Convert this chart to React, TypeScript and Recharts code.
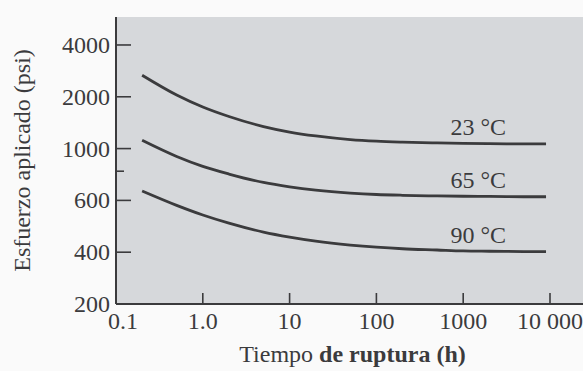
import React from 'react';
import { LineChart, Line, XAxis, YAxis, CartesianGrid, Label, LabelList } from 'recharts';

// rupture time (h)
const hours = [0.2, 0.5, 1, 2, 5, 10, 20, 50, 100, 200, 500, 1000, 2000, 5000, 9000];
// applied stress (psi)
const stress23 = [2670, 2049, 1745, 1537, 1343, 1248, 1184, 1128, 1104, 1090, 1078, 1072, 1068, 1064, 1064];
const stress65 = [1117, 925, 839, 778, 716, 686, 664, 645, 636, 631, 627, 625, 624, 622, 622];
const stress90 = [658, 577, 535, 502, 468, 450, 436, 423, 416, 411, 407, 404, 403, 402, 402];
const seriesNames = ['23 °C', '65 °C', '90 °C'];

const xTicks = [0.1, 1, 10, 100, 1000, 10000];
const xTickLabels = ['0.1', '1.0', '10', '100', '1000', '10 000'];
const yTicks = [200, 400, 600, 1000, 2000, 4000];
const yTickLabels = ['200', '400', '600', '1000', '2000', '4000'];
const yMinorTicks = [800];
const labelHour = 1000;

const INK = '#3b3b3d';
const FONT = '"Liberation Serif", "DejaVu Serif", serif';

// The printed stress axis has equally spaced ticks; interpolate logarithmically between them.
const psiToPos = (v: number) => {
  let i = 0;
  while (i < yTicks.length - 2 && v > yTicks[i + 1]) i++;
  return i + Math.log(v / yTicks[i]) / Math.log(yTicks[i + 1] / yTicks[i]);
};

const data = hours.map((h, i) => ({
  h,
  s23: psiToPos(stress23[i]),
  s65: psiToPos(stress65[i]),
  s90: psiToPos(stress90[i]),
}));

const majorPos = yTicks.map((_, i) => i);
const minorPos = yMinorTicks.map(psiToPos);

const XTick = (props: any) => {
  const { x, y, payload } = props;
  const i = xTicks.indexOf(payload.value);
  const dx = i === 0 ? 7 : 0;
  return (
    <g>
      {i > 0 && <line x1={x} x2={x} y1={y} y2={y - 11} stroke={INK} strokeWidth={1.6} />}
      <text x={x + dx} y={y + 25} textAnchor="middle" fontFamily={FONT} fontSize={24} fill={INK}>
        {i >= 0 ? xTickLabels[i] : ''}
      </text>
    </g>
  );
};

const YTick = (props: any) => {
  const { x, y, payload } = props;
  const i = majorPos.findIndex((p) => Math.abs(p - payload.value) < 1e-6);
  const ax = x + 6;
  if (i < 0) {
    return <line x1={ax} x2={ax + 8} y1={y} y2={y} stroke={INK} strokeWidth={1.6} />;
  }
  return (
    <g>
      {i > 0 && <line x1={ax} x2={ax + 15} y1={y} y2={y} stroke={INK} strokeWidth={1.6} />}
      <text x={x} y={y + 8} textAnchor="end" fontFamily={FONT} fontSize={24} fill={INK}>
        {yTickLabels[i]}
      </text>
    </g>
  );
};

const makeSeriesLabel = (name: string) => (props: any) => {
  const { x, y, index } = props;
  if (hours[index] !== labelHour) return null;
  return (
    <text x={x + 15} y={y - 8} textAnchor="middle" fontFamily={FONT} fontSize={24} fill={INK}>
      {name}
    </text>
  );
};

const YTitle = (props: any) => {
  const vb = props.viewBox || {};
  const cx = (vb.x || 0) + 22;
  const cy = (vb.y || 0) + (vb.height || 0) / 2;
  return (
    <text
      x={cx}
      y={cy}
      transform={`rotate(-90 ${cx} ${cy})`}
      textAnchor="middle"
      dominantBaseline="central"
      fontFamily={FONT}
      fontSize={24}
      fill={INK}
    >
      Esfuerzo aplicado (psi)
    </text>
  );
};

const XTitle = (props: any) => {
  const vb = props.viewBox || {};
  const cx = (vb.x || 0) + (vb.width || 0) / 2 + 3;
  const cy = (vb.y || 0) + 58;
  return (
    <text x={cx} y={cy} textAnchor="middle" fontFamily={FONT} fontSize={24} fill={INK}>
      <tspan>Tiempo </tspan>
      <tspan fontWeight="bold">de ruptura (h)</tspan>
    </text>
  );
};

export default function App() {
  return (
    <div style={{ position: 'absolute', left: 0, top: 0, width: 583, height: 371, background: '#fafafa' }}>
      <LineChart width={583} height={371} data={data} margin={{ top: 17, right: 0, bottom: 0, left: 0 }}>
        <CartesianGrid horizontal={false} vertical={false} fill="#d6d8db" stroke="none" />
        <XAxis
          dataKey="h"
          type="number"
          scale="log"
          domain={[0.1, 24000]}
          allowDataOverflow
          ticks={xTicks}
          interval={0}
          height={67}
          tickSize={0}
          tickMargin={0}
          tick={<XTick />}
          axisLine={{ stroke: INK, strokeWidth: 2 }}
          tickLine={false}
        >
          <Label content={<XTitle />} />
        </XAxis>
        <YAxis
          type="number"
          domain={[0, 5.54]}
          allowDataOverflow
          ticks={[...majorPos, ...minorPos]}
          interval={0}
          width={116}
          tickSize={0}
          tickMargin={6}
          tick={<YTick />}
          axisLine={{ stroke: INK, strokeWidth: 2 }}
          tickLine={false}
        >
          <Label content={<YTitle />} />
        </YAxis>
        <Line dataKey="s23" type="monotone" stroke={INK} strokeWidth={2.8} dot={false} isAnimationActive={false}>
          <LabelList dataKey="s23" content={makeSeriesLabel(seriesNames[0])} />
        </Line>
        <Line dataKey="s65" type="monotone" stroke={INK} strokeWidth={2.8} dot={false} isAnimationActive={false}>
          <LabelList dataKey="s65" content={makeSeriesLabel(seriesNames[1])} />
        </Line>
        <Line dataKey="s90" type="monotone" stroke={INK} strokeWidth={2.8} dot={false} isAnimationActive={false}>
          <LabelList dataKey="s90" content={makeSeriesLabel(seriesNames[2])} />
        </Line>
      </LineChart>
    </div>
  );
}
